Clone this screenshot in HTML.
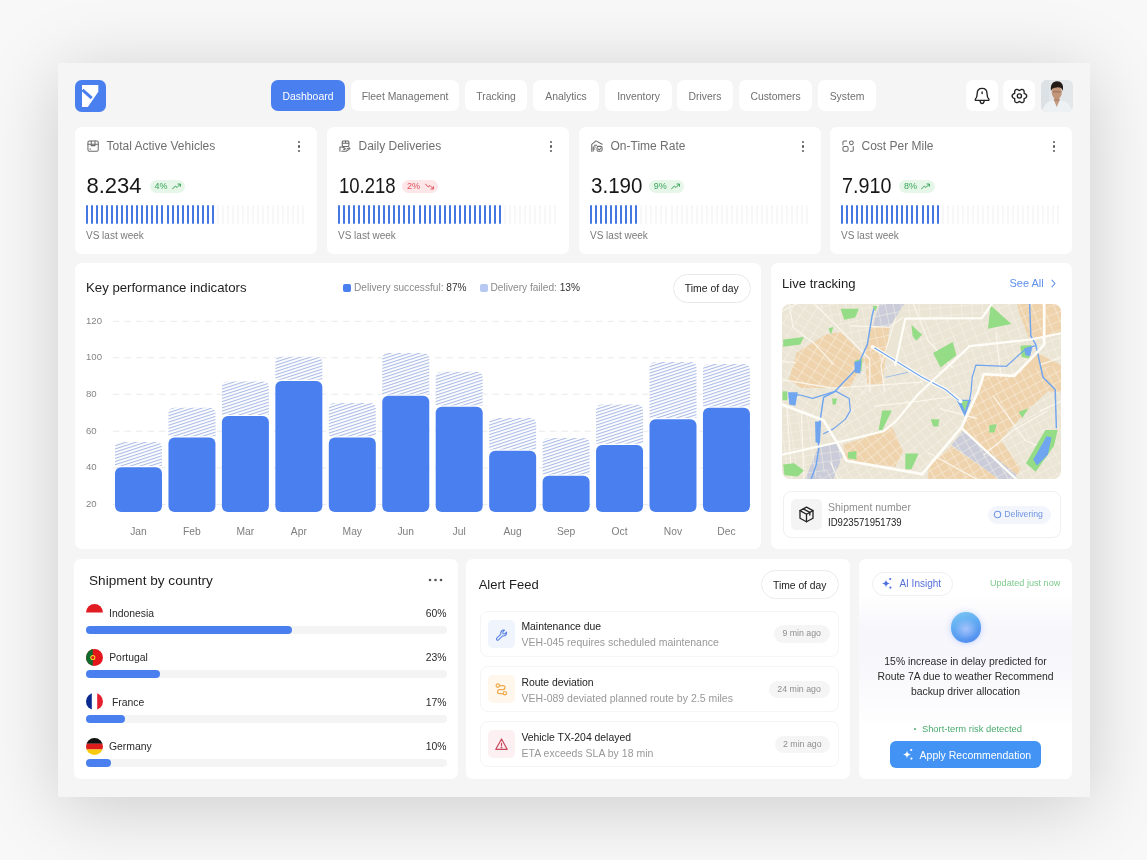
<!DOCTYPE html>
<html><head><meta charset="utf-8">
<style>

*{margin:0;padding:0;box-sizing:border-box}
html,body{width:1147px;height:860px;overflow:hidden}
body{background:#f8f8f8;font-family:"Liberation Sans",sans-serif;color:#1c1c1c;position:relative}
.a{position:absolute;white-space:nowrap}
#panel{position:absolute;left:58px;top:63px;width:1032px;height:734px;background:#f5f5f5;box-shadow:0 10px 70px rgba(0,0,0,0.18)}
.card{position:absolute;background:#fff;border-radius:6.5px}
.tab{position:absolute;top:80px;height:31px;padding-top:1px;border-radius:7px;background:#fff;color:#707070;font-size:10.4px;line-height:31px;text-align:center;white-space:nowrap}
.tab.on{background:#4a7ff0;color:#fff}
.ibtn{position:absolute;top:80px;width:32px;height:31px;border-radius:7px;background:#fff}
.kt{position:absolute;font-size:12px;line-height:14px;color:#6f6f6f;white-space:nowrap}
.kn{position:absolute;font-size:22px;line-height:24px;color:#161616;white-space:nowrap}
.badge{position:absolute;height:13px;border-radius:7px;font-size:9px;line-height:13px;white-space:nowrap;padding-left:5px}
.vs{position:absolute;font-size:10px;line-height:12px;color:#7a7a7a;white-space:nowrap}
.keb{position:absolute;width:3px;height:11px}
.keb i{display:block;width:2.2px;height:2.2px;border-radius:50%;background:#5a5a5a;margin-bottom:2.2px}
.ttl{position:absolute;font-size:13.2px;line-height:16px;color:#1e1e1e;white-space:nowrap}
.bars{position:absolute;height:19px;display:flex;justify-content:space-between;width:219px}
.bars b{display:block;width:2px;height:19px;border-radius:1px;background:#f7f7f7}
.bars b.on{background:#4577e2}
.yl{position:absolute;font-size:9.6px;line-height:12px;color:#858585;white-space:nowrap}
.ml{position:absolute;font-size:10.3px;line-height:12px;color:#7e7e7e;white-space:nowrap;text-align:center;width:47px}
.bar{position:absolute;width:47px;background:#4a7ff0;border-radius:6px}
.hat{position:absolute;width:47px;border-radius:6px 6px 0 0;background:repeating-linear-gradient(-20deg,#fff 0px,#fff 1.6px,#b9c9f0 1.6px,#b9c9f0 2.9px)}
.grid{position:absolute;left:113px;width:638px;height:0;border-top:1px dashed #e6e6e6}

</style></head>
<body>
<div id="wrap" style="position:absolute;left:0;top:0;width:1147px;height:860px;will-change:transform">
<div id="panel"></div>

<div class="a" style="left:75px;top:80px;width:31px;height:31.5px;border-radius:6.5px;background:#4a7ff0">
 <svg width="31" height="32" viewBox="0 0 31 32" style="position:absolute;left:0;top:0">
  <path d="M7 5 H23.3 V11.8 L12.8 27 H7 Z" fill="#fff"/>
  <path d="M8.6 10.9 L15.6 17.2" stroke="#4a7ff0" stroke-width="3" stroke-linecap="square"/>
 </svg>
</div>
<div class="tab on" style="left:271px;width:74px">Dashboard</div>
<div class="tab" style="left:351px;width:108px">Fleet Management</div>
<div class="tab" style="left:465px;width:62px">Tracking</div>
<div class="tab" style="left:533px;width:66px">Analytics</div>
<div class="tab" style="left:605px;width:67px">Inventory</div>
<div class="tab" style="left:677px;width:56px">Drivers</div>
<div class="tab" style="left:739px;width:73px">Customers</div>
<div class="tab" style="left:818px;width:58px">System</div>
<div class="ibtn" style="left:966px">
 <svg width="32" height="31" viewBox="0 0 32 31" style="position:absolute;left:0;top:0" fill="none" stroke="#222" stroke-width="1.35" stroke-linejoin="round" stroke-linecap="round">
  <path d="M16.1 8.3 C12.8 8.3 11.2 10.8 11.2 13.5 C11.2 16.5 10.8 17.8 9.3 19.3 C9 19.9 9.4 20.4 10 20.4 H22.2 C22.8 20.4 23.2 19.9 22.9 19.3 C21.4 17.8 21 16.5 21 13.5 C21 10.8 19.4 8.3 16.1 8.3 Z"/>
  <path d="M13.9 20.6 C14.3 22.6 15.1 23.6 16.1 23.6 C17.1 23.6 17.9 22.6 18.3 20.6"/>
  <path d="M16.1 11.9 V13.6"/>
 </svg>
</div>
<div class="ibtn" style="left:1003px">
 <svg width="32" height="31" viewBox="0 0 32 31" style="position:absolute;left:0;top:0" fill="none" stroke="#222" stroke-width="1.35" stroke-linejoin="round">
  <path d="M23.70 16.00 L23.67 16.32 L23.59 16.63 L23.45 16.93 L23.27 17.21 L23.04 17.47 L22.79 17.71 L22.50 17.92 L22.20 18.11 L21.89 18.28 L21.59 18.42 L21.31 18.56 L21.08 18.70 L21.07 18.97 L21.09 19.29 L21.12 19.62 L21.13 19.97 L21.12 20.32 L21.07 20.67 L21.00 21.02 L20.88 21.34 L20.73 21.64 L20.54 21.91 L20.31 22.14 L20.05 22.32 L19.76 22.46 L19.45 22.54 L19.12 22.57 L18.79 22.56 L18.45 22.49 L18.11 22.39 L17.78 22.25 L17.47 22.08 L17.18 21.89 L16.90 21.71 L16.64 21.53 L16.40 21.40 L16.16 21.53 L15.90 21.71 L15.62 21.89 L15.33 22.08 L15.02 22.25 L14.69 22.39 L14.35 22.49 L14.01 22.56 L13.68 22.57 L13.35 22.54 L13.04 22.46 L12.75 22.32 L12.49 22.14 L12.26 21.91 L12.07 21.64 L11.92 21.34 L11.80 21.02 L11.73 20.67 L11.68 20.32 L11.67 19.97 L11.68 19.62 L11.71 19.29 L11.73 18.97 L11.72 18.70 L11.49 18.56 L11.21 18.42 L10.91 18.28 L10.60 18.11 L10.30 17.92 L10.01 17.71 L9.76 17.47 L9.53 17.21 L9.35 16.93 L9.21 16.63 L9.13 16.32 L9.10 16.00 L9.13 15.68 L9.21 15.37 L9.35 15.07 L9.53 14.79 L9.76 14.53 L10.01 14.29 L10.30 14.08 L10.60 13.89 L10.91 13.72 L11.21 13.58 L11.49 13.44 L11.72 13.30 L11.73 13.03 L11.71 12.71 L11.68 12.38 L11.67 12.03 L11.68 11.68 L11.73 11.33 L11.80 10.98 L11.92 10.66 L12.07 10.36 L12.26 10.09 L12.49 9.86 L12.75 9.68 L13.04 9.54 L13.35 9.46 L13.68 9.43 L14.01 9.44 L14.35 9.51 L14.69 9.61 L15.02 9.75 L15.33 9.92 L15.62 10.11 L15.90 10.29 L16.16 10.47 L16.40 10.60 L16.64 10.47 L16.90 10.29 L17.18 10.11 L17.47 9.92 L17.78 9.75 L18.11 9.61 L18.45 9.51 L18.79 9.44 L19.12 9.43 L19.45 9.46 L19.76 9.54 L20.05 9.68 L20.31 9.86 L20.54 10.09 L20.73 10.36 L20.88 10.66 L21.00 10.98 L21.07 11.33 L21.12 11.68 L21.13 12.03 L21.12 12.38 L21.09 12.71 L21.07 13.03 L21.08 13.30 L21.31 13.44 L21.59 13.58 L21.89 13.72 L22.20 13.89 L22.50 14.08 L22.79 14.29 L23.04 14.53 L23.27 14.79 L23.45 15.07 L23.59 15.37 L23.67 15.68 Z"/>
  <circle cx="16.4" cy="16" r="2.1"/>
 </svg>
</div>
<div class="a" style="left:1041px;top:80px;width:32px;height:31.5px;border-radius:6px;overflow:hidden;background:#e6e9ec">
 <svg width="32" height="32" viewBox="0 0 32 32" style="position:absolute;left:0;top:0">
  <rect width="32" height="32" fill="#e3e7ea"/>
  <rect x="0" y="0" width="8" height="32" fill="#dce1e5"/>
  <path d="M1.5 32 C2.5 25 6 21.5 11 20.5 L20.5 20.5 C26 21.5 30 25 31 32 Z" fill="#eef1f4"/>
  <path d="M12.5 19.5 L15.8 27 L19 19.5 Z" fill="#c49a80"/>
  <rect x="13.3" y="16" width="5" height="5" fill="#b5876c"/>
  <ellipse cx="15.8" cy="12.3" rx="5" ry="6.6" fill="#c29478"/>
  <path d="M10 11 C9 4.5 12 1 16 1.2 C20.5 1.2 23 4.5 21.8 11 C21 8 19 7.2 16 7.4 C13 7.4 11 8.2 10 11 Z" fill="#241b17"/>
  <path d="M12 11.8 H19.6" stroke="#5a3e30" stroke-width="0.45"/>
 </svg>
</div>


<div class="card" style="left:75px;top:127px;width:242px;height:127px"></div>
<svg class="a" style="left:87.2px;top:140px" width="12.2" height="12.2" viewBox="0 0 13 13" fill="none" stroke="#6a6a6a" stroke-width="1.1" stroke-linecap="round" stroke-linejoin="round"><rect x="1" y="1" width="11" height="11" rx="1.5"/><path d="M1 4.5 H12 M4.5 1 V6 H8.5 V1 M3 9.5 H4"/></svg>
<div class="kt" style="left:106.5px;top:139px">Total Active Vehicles</div>
<div class="keb" style="left:298px;top:141px"><i></i><i></i><i></i></div>
<div class="kn" style="left:86.5px;top:174px;transform:scaleX(1.0);transform-origin:0 0">8.234</div>
<div class="badge" style="left:149.5px;top:179.5px;width:35px;background:#e6f6e9;color:#3aa55a">4%<svg width="9" height="7" viewBox="0 0 9 7" style="position:absolute;left:22px;top:3px" fill="none" stroke="#3aa55a" stroke-width="1" stroke-linecap="round" stroke-linejoin="round"><path d="M0.5 6 L3.3 3 L5 4.5 L8.3 1.2 M6 1 H8.4 V3.3"/></svg></div>
<div class="bars" style="left:86px;top:205px"><b class="on"></b><b class="on"></b><b class="on"></b><b class="on"></b><b class="on"></b><b class="on"></b><b class="on"></b><b class="on"></b><b class="on"></b><b class="on"></b><b class="on"></b><b class="on"></b><b class="on"></b><b class="on"></b><b class="on"></b><b class="on"></b><b class="on"></b><b class="on"></b><b class="on"></b><b class="on"></b><b class="on"></b><b class="on"></b><b class="on"></b><b class="on"></b><b class="on"></b><b class="on"></b><b></b><b></b><b></b><b></b><b></b><b></b><b></b><b></b><b></b><b></b><b></b><b></b><b></b><b></b><b></b><b></b><b></b><b></b></div>
<div class="vs" style="left:86px;top:230px">VS last week</div>

<div class="card" style="left:327px;top:127px;width:242px;height:127px"></div>
<svg class="a" style="left:339.2px;top:140px" width="12.2" height="12.2" viewBox="0 0 13 13" fill="none" stroke="#6a6a6a" stroke-width="1.1" stroke-linecap="round" stroke-linejoin="round"><rect x="3.5" y="1" width="7" height="6" rx="1"/><path d="M3.5 3.5 H10.5 M7 1 V3.5"/><path d="M1 12 V7.5 H3 L6 8.5 C7 8.8 7 10 6 10 H5 M3 12 L7.5 12 L11.5 9.5 C12 9 11.5 8 10.5 8.5 L8.5 9.5"/></svg>
<div class="kt" style="left:358.5px;top:139px">Daily Deliveries</div>
<div class="keb" style="left:550px;top:141px"><i></i><i></i><i></i></div>
<div class="kn" style="left:338.5px;top:174px;transform:scaleX(0.842);transform-origin:0 0">10.218</div>
<div class="badge" style="left:402px;top:179.5px;width:36px;background:#fde6e7;color:#e0505a">2%<svg width="9" height="7" viewBox="0 0 9 7" style="position:absolute;left:23px;top:3px" fill="none" stroke="#e0505a" stroke-width="1" stroke-linecap="round" stroke-linejoin="round"><path d="M0.5 1 L3.3 4 L5 2.5 L8.3 5.8 M6 6 H8.4 V3.7"/></svg></div>
<div class="bars" style="left:338px;top:205px"><b class="on"></b><b class="on"></b><b class="on"></b><b class="on"></b><b class="on"></b><b class="on"></b><b class="on"></b><b class="on"></b><b class="on"></b><b class="on"></b><b class="on"></b><b class="on"></b><b class="on"></b><b class="on"></b><b class="on"></b><b class="on"></b><b class="on"></b><b class="on"></b><b class="on"></b><b class="on"></b><b class="on"></b><b class="on"></b><b class="on"></b><b class="on"></b><b class="on"></b><b class="on"></b><b class="on"></b><b class="on"></b><b class="on"></b><b class="on"></b><b class="on"></b><b class="on"></b><b class="on"></b><b></b><b></b><b></b><b></b><b></b><b></b><b></b><b></b><b></b><b></b><b></b></div>
<div class="vs" style="left:338px;top:230px">VS last week</div>

<div class="card" style="left:579px;top:127px;width:242px;height:127px"></div>
<svg class="a" style="left:591.2px;top:140px" width="12.2" height="12.2" viewBox="0 0 13 13" fill="none" stroke="#6a6a6a" stroke-width="1.1" stroke-linecap="round" stroke-linejoin="round"><path d="M0.8 12 V4.6 L5.3 0.9 L11.9 4.6"/><path d="M3.6 5.6 H6.2"/><rect x="6.4" y="6.8" width="5.5" height="5.2" rx="1.6"/><path d="M7.8 9.6 L8.9 10.5 L10.6 8.6"/><path d="M2.3 12 V7.5 H4.6 M2.3 9.7 H4.2"/></svg>
<div class="kt" style="left:610.5px;top:139px">On-Time Rate</div>
<div class="keb" style="left:802px;top:141px"><i></i><i></i><i></i></div>
<div class="kn" style="left:590.5px;top:174px;transform:scaleX(0.935);transform-origin:0 0">3.190</div>
<div class="badge" style="left:648.7px;top:179.5px;width:35.5px;background:#e6f6e9;color:#3aa55a">9%<svg width="9" height="7" viewBox="0 0 9 7" style="position:absolute;left:22px;top:3px" fill="none" stroke="#3aa55a" stroke-width="1" stroke-linecap="round" stroke-linejoin="round"><path d="M0.5 6 L3.3 3 L5 4.5 L8.3 1.2 M6 1 H8.4 V3.3"/></svg></div>
<div class="bars" style="left:590px;top:205px"><b class="on"></b><b class="on"></b><b class="on"></b><b class="on"></b><b class="on"></b><b class="on"></b><b class="on"></b><b class="on"></b><b class="on"></b><b class="on"></b><b></b><b></b><b></b><b></b><b></b><b></b><b></b><b></b><b></b><b></b><b></b><b></b><b></b><b></b><b></b><b></b><b></b><b></b><b></b><b></b><b></b><b></b><b></b><b></b><b></b><b></b><b></b><b></b><b></b><b></b><b></b><b></b><b></b><b></b></div>
<div class="vs" style="left:590px;top:230px">VS last week</div>

<div class="card" style="left:830px;top:127px;width:242px;height:127px"></div>
<svg class="a" style="left:842.2px;top:140px" width="12.2" height="12.2" viewBox="0 0 13 13" fill="none" stroke="#6a6a6a" stroke-width="1.1" stroke-linecap="round" stroke-linejoin="round"><path d="M1 5 V2.5 C1 1.5 1.5 1 2.5 1 H5"/><rect x="1" y="7" width="5.5" height="5" rx="1.5"/><circle cx="10" cy="3" r="2"/><path d="M12 7 V11 C12 11.8 11.5 12 11 12 H9"/></svg>
<div class="kt" style="left:861.5px;top:139px">Cost Per Mile</div>
<div class="keb" style="left:1053px;top:141px"><i></i><i></i><i></i></div>
<div class="kn" style="left:841.5px;top:174px;transform:scaleX(0.897);transform-origin:0 0">7.910</div>
<div class="badge" style="left:899px;top:179.5px;width:35.5px;background:#e6f6e9;color:#3aa55a">8%<svg width="9" height="7" viewBox="0 0 9 7" style="position:absolute;left:22px;top:3px" fill="none" stroke="#3aa55a" stroke-width="1" stroke-linecap="round" stroke-linejoin="round"><path d="M0.5 6 L3.3 3 L5 4.5 L8.3 1.2 M6 1 H8.4 V3.3"/></svg></div>
<div class="bars" style="left:841px;top:205px"><b class="on"></b><b class="on"></b><b class="on"></b><b class="on"></b><b class="on"></b><b class="on"></b><b class="on"></b><b class="on"></b><b class="on"></b><b class="on"></b><b class="on"></b><b class="on"></b><b class="on"></b><b class="on"></b><b class="on"></b><b class="on"></b><b class="on"></b><b class="on"></b><b class="on"></b><b class="on"></b><b></b><b></b><b></b><b></b><b></b><b></b><b></b><b></b><b></b><b></b><b></b><b></b><b></b><b></b><b></b><b></b><b></b><b></b><b></b><b></b><b></b><b></b><b></b><b></b></div>
<div class="vs" style="left:841px;top:230px">VS last week</div>

<div class="card" style="left:75px;top:263px;width:686px;height:286px"></div>
<svg class="a" style="left:0;top:0" width="1147" height="860" viewBox="0 0 1147 860"><defs><pattern id="hp" width="6" height="3" patternUnits="userSpaceOnUse" patternTransform="rotate(-18)"><rect x="0" y="0" width="6" height="3" fill="#fff"/><rect x="0" y="0" width="6" height="1.1" fill="#acbbe6"/></pattern></defs><line x1="113" y1="321.3" x2="751" y2="321.3" stroke="#eaeaea" stroke-width="1" stroke-dasharray="6.5 5"/><line x1="113" y1="357.8" x2="751" y2="357.8" stroke="#eaeaea" stroke-width="1" stroke-dasharray="6.5 5"/><line x1="113" y1="394.2" x2="751" y2="394.2" stroke="#eaeaea" stroke-width="1" stroke-dasharray="6.5 5"/><line x1="113" y1="431.2" x2="751" y2="431.2" stroke="#eaeaea" stroke-width="1" stroke-dasharray="6.5 5"/><line x1="113" y1="467.9" x2="751" y2="467.9" stroke="#eaeaea" stroke-width="1" stroke-dasharray="6.5 5"/><line x1="113" y1="504.6" x2="751" y2="504.6" stroke="#eaeaea" stroke-width="1" stroke-dasharray="6.5 5"/><path d="M115.00 466.10 V447.90 Q115.00 441.90 121.00 441.90 H156.00 Q162.00 441.90 162.00 447.90 V466.10 Z" fill="url(#hp)"/><rect x="115.00" y="467.3" width="47" height="44.70" rx="6" fill="#4a7ff0"/><path d="M168.45 436.30 V413.70 Q168.45 407.70 174.45 407.70 H209.45 Q215.45 407.70 215.45 413.70 V436.30 Z" fill="url(#hp)"/><rect x="168.45" y="437.5" width="47" height="74.50" rx="6" fill="#4a7ff0"/><path d="M221.90 414.90 V387.60 Q221.90 381.60 227.90 381.60 H262.90 Q268.90 381.60 268.90 387.60 V414.90 Z" fill="url(#hp)"/><rect x="221.90" y="416.1" width="47" height="95.90" rx="6" fill="#4a7ff0"/><path d="M275.35 379.80 V362.80 Q275.35 356.80 281.35 356.80 H316.35 Q322.35 356.80 322.35 362.80 V379.80 Z" fill="url(#hp)"/><rect x="275.35" y="381" width="47" height="131.00" rx="6" fill="#4a7ff0"/><path d="M328.80 436.30 V409.00 Q328.80 403.00 334.80 403.00 H369.80 Q375.80 403.00 375.80 409.00 V436.30 Z" fill="url(#hp)"/><rect x="328.80" y="437.5" width="47" height="74.50" rx="6" fill="#4a7ff0"/><path d="M382.25 394.50 V359.00 Q382.25 353.00 388.25 353.00 H423.25 Q429.25 353.00 429.25 359.00 V394.50 Z" fill="url(#hp)"/><rect x="382.25" y="395.7" width="47" height="116.30" rx="6" fill="#4a7ff0"/><path d="M435.70 405.60 V377.70 Q435.70 371.70 441.70 371.70 H476.70 Q482.70 371.70 482.70 377.70 V405.60 Z" fill="url(#hp)"/><rect x="435.70" y="406.8" width="47" height="105.20" rx="6" fill="#4a7ff0"/><path d="M489.15 449.50 V424.00 Q489.15 418.00 495.15 418.00 H530.15 Q536.15 418.00 536.15 424.00 V449.50 Z" fill="url(#hp)"/><rect x="489.15" y="450.7" width="47" height="61.30" rx="6" fill="#4a7ff0"/><path d="M542.60 474.60 V443.90 Q542.60 437.90 548.60 437.90 H583.60 Q589.60 437.90 589.60 443.90 V474.60 Z" fill="url(#hp)"/><rect x="542.60" y="475.8" width="47" height="36.20" rx="6" fill="#4a7ff0"/><path d="M596.05 443.80 V410.40 Q596.05 404.40 602.05 404.40 H637.05 Q643.05 404.40 643.05 410.40 V443.80 Z" fill="url(#hp)"/><rect x="596.05" y="445" width="47" height="67.00" rx="6" fill="#4a7ff0"/><path d="M649.50 418.10 V368.00 Q649.50 362.00 655.50 362.00 H690.50 Q696.50 362.00 696.50 368.00 V418.10 Z" fill="url(#hp)"/><rect x="649.50" y="419.3" width="47" height="92.70" rx="6" fill="#4a7ff0"/><path d="M702.95 406.50 V370.00 Q702.95 364.00 708.95 364.00 H743.95 Q749.95 364.00 749.95 370.00 V406.50 Z" fill="url(#hp)"/><rect x="702.95" y="407.7" width="47" height="104.30" rx="6" fill="#4a7ff0"/></svg>
<div class="ttl" style="left:86px;top:280px">Key performance indicators</div>
<div class="a" style="left:343px;top:284px;width:8px;height:8px;border-radius:2px;background:#4a7ff0"></div>
<div class="a" style="left:354px;top:282px;font-size:10.15px;line-height:12px;color:#8a8a8a">Delivery successful: <span style="color:#333">87%</span></div>
<div class="a" style="left:479.5px;top:284px;width:8px;height:8px;border-radius:2px;background:#b7c8f3"></div>
<div class="a" style="left:490.5px;top:282px;font-size:10.15px;line-height:12px;color:#8a8a8a">Delivery failed: <span style="color:#333">13%</span></div>
<div class="a" style="left:672.5px;top:273.5px;width:78.5px;height:29px;border:1px solid #e8e8e8;border-radius:15px;font-size:10.4px;line-height:27px;text-align:center;color:#222">Time of day</div>
<div class="yl" style="left:86px;top:314.8px">120</div>
<div class="yl" style="left:86px;top:351.3px">100</div>
<div class="yl" style="left:86px;top:387.7px">80</div>
<div class="yl" style="left:86px;top:424.7px">60</div>
<div class="yl" style="left:86px;top:461.4px">40</div>
<div class="yl" style="left:86px;top:498.1px">20</div>
<div class="ml" style="left:115.00px;top:525.5px">Jan</div>
<div class="ml" style="left:168.45px;top:525.5px">Feb</div>
<div class="ml" style="left:221.90px;top:525.5px">Mar</div>
<div class="ml" style="left:275.35px;top:525.5px">Apr</div>
<div class="ml" style="left:328.80px;top:525.5px">May</div>
<div class="ml" style="left:382.25px;top:525.5px">Jun</div>
<div class="ml" style="left:435.70px;top:525.5px">Jul</div>
<div class="ml" style="left:489.15px;top:525.5px">Aug</div>
<div class="ml" style="left:542.60px;top:525.5px">Sep</div>
<div class="ml" style="left:596.05px;top:525.5px">Oct</div>
<div class="ml" style="left:649.50px;top:525.5px">Nov</div>
<div class="ml" style="left:702.95px;top:525.5px">Dec</div>

<div class="card" style="left:771px;top:263px;width:301px;height:286px"></div>
<div class="ttl" style="left:782px;top:276px;font-size:13.1px">Live tracking</div>
<div class="a" style="left:1009.5px;top:277px;font-size:11px;line-height:13px;color:#5e8fe8">See All</div>
<svg class="a" style="left:1050px;top:279px" width="7" height="9" viewBox="0 0 7 9" fill="none" stroke="#5e8fe8" stroke-width="1.1" stroke-linecap="round" stroke-linejoin="round"><path d="M2 1.2 L5 4.5 L2 7.8"/></svg>
<div class="a" style="left:782px;top:304px;width:279px;height:175px;border-radius:8px;overflow:hidden">
<svg width="279" height="175" viewBox="0 0 1147 719" preserveAspectRatio="none" style="display:block"><rect width="1147" height="719" fill="#ebe5d6"/><defs><pattern id="mp0" width="43" height="32" patternUnits="userSpaceOnUse" patternTransform="rotate(32)"><path d="M0 0 H43 M0 0 V32" stroke="#faf6ec" stroke-width="4.5" fill="none"/></pattern><clipPath id="mc0"><polygon points="0,0 135,0 361,226 361,361 226,569 171,478 0,413"/></clipPath><pattern id="mp1" width="37" height="35" patternUnits="userSpaceOnUse" patternTransform="rotate(-8)"><path d="M0 0 H37 M0 0 V35" stroke="#faf6ec" stroke-width="4.5" fill="none"/></pattern><clipPath id="mc1"><polygon points="0,413 171,478 226,569 266,644 120,720 0,720"/></clipPath><pattern id="mp2" width="43" height="32" patternUnits="userSpaceOnUse" patternTransform="rotate(78)"><path d="M0 0 H43 M0 0 V32" stroke="#faf6ec" stroke-width="4.5" fill="none"/></pattern><clipPath id="mc2"><polygon points="135,0 505,0 467,60 407,251 372,176 361,226"/></clipPath><pattern id="mp3" width="40" height="35" patternUnits="userSpaceOnUse" patternTransform="rotate(60)"><path d="M0 0 H40 M0 0 V35" stroke="#faf6ec" stroke-width="4.5" fill="none"/></pattern><clipPath id="mc3"><polygon points="361,226 372,176 576,301 470,480 226,569"/></clipPath><pattern id="mp4" width="43" height="35" patternUnits="userSpaceOnUse" patternTransform="rotate(-22)"><path d="M0 0 H43 M0 0 V35" stroke="#faf6ec" stroke-width="4.5" fill="none"/></pattern><clipPath id="mc4"><polygon points="505,0 862,0 822,58 505,60 470,232 576,301 772,173 1023,146 1147,120 1147,0"/></clipPath><pattern id="mp5" width="37" height="32" patternUnits="userSpaceOnUse" patternTransform="rotate(70)"><path d="M0 0 H37 M0 0 V32" stroke="#faf6ec" stroke-width="4.5" fill="none"/></pattern><clipPath id="mc5"><polygon points="576,301 772,173 1023,146 1147,120 1147,251 1048,200 955,295 830,288 807,358 737,508 672,351"/></clipPath><pattern id="mp6" width="40" height="32" patternUnits="userSpaceOnUse" patternTransform="rotate(52)"><path d="M0 0 H40 M0 0 V32" stroke="#faf6ec" stroke-width="4.5" fill="none"/></pattern><clipPath id="mc6"><polygon points="226,569 470,480 576,301 672,351 737,508 576,699 266,644"/></clipPath><pattern id="mp7" width="43" height="35" patternUnits="userSpaceOnUse" patternTransform="rotate(-5)"><path d="M0 0 H43 M0 0 V35" stroke="#faf6ec" stroke-width="4.5" fill="none"/></pattern><clipPath id="mc7"><polygon points="490,0 870,0 822,60 500,62"/></clipPath><pattern id="mp8" width="37" height="32" patternUnits="userSpaceOnUse" patternTransform="rotate(62)"><path d="M0 0 H37 M0 0 V32" stroke="#faf6ec" stroke-width="4.5" fill="none"/></pattern><clipPath id="mc8"><polygon points="737,508 807,358 830,288 1147,251 1147,720 963,720"/></clipPath><pattern id="mp9" width="37" height="32" patternUnits="userSpaceOnUse" patternTransform="rotate(-30)"><path d="M0 0 H37 M0 0 V32" stroke="#faf6ec" stroke-width="4.5" fill="none"/></pattern><clipPath id="mc9"><polygon points="266,644 576,699 737,508 963,720 120,720"/></clipPath></defs><polygon points="28,311 60,200 180,125 240,115 320,195 340,230 300,300 280,345 80,345" fill="#efd3ad" /><polygon points="361,95 442,95 412,331 351,331 340,225" fill="#efd3ad" /><polygon points="968,0 1147,0 1147,116 1078,136 1013,136 973,30" fill="#efd3ad" /><polygon points="830,288 955,295 1048,200 1147,251 1147,362 1093,358 1013,433 898,558 983,679 963,704 742,518" fill="#efd3ad" /><polygon points="251,579 417,523 452,503 497,604 467,669 266,644" fill="#efd3ad" /><polygon points="697,584 893,720 601,720 601,669" fill="#efd3ad" /><polygon points="371,95 402,0 502,0 442,95" fill="#cacdd9" /><polygon points="742,523 697,579 893,720 963,720 963,699" fill="#cacdd9" /><polygon points="151,584 226,574 251,619 211,720 95,720" fill="#cacdd9" /><rect x="-50" y="-50" width="1250" height="820" fill="url(#mp0)" clip-path="url(#mc0)" opacity="0.85"/><rect x="-50" y="-50" width="1250" height="820" fill="url(#mp1)" clip-path="url(#mc1)" opacity="0.85"/><rect x="-50" y="-50" width="1250" height="820" fill="url(#mp2)" clip-path="url(#mc2)" opacity="0.85"/><rect x="-50" y="-50" width="1250" height="820" fill="url(#mp3)" clip-path="url(#mc3)" opacity="0.85"/><rect x="-50" y="-50" width="1250" height="820" fill="url(#mp4)" clip-path="url(#mc4)" opacity="0.85"/><rect x="-50" y="-50" width="1250" height="820" fill="url(#mp5)" clip-path="url(#mc5)" opacity="0.85"/><rect x="-50" y="-50" width="1250" height="820" fill="url(#mp6)" clip-path="url(#mc6)" opacity="0.85"/><rect x="-50" y="-50" width="1250" height="820" fill="url(#mp7)" clip-path="url(#mc7)" opacity="0.85"/><rect x="-50" y="-50" width="1250" height="820" fill="url(#mp8)" clip-path="url(#mc8)" opacity="0.85"/><rect x="-50" y="-50" width="1250" height="820" fill="url(#mp9)" clip-path="url(#mc9)" opacity="0.85"/><polyline points="135,0 361,226 361,361" fill="none" stroke="#faf6ec" stroke-width="5" stroke-linejoin="round" stroke-linecap="round" /><polyline points="30,0 45,95 130,160 211,246" fill="none" stroke="#faf6ec" stroke-width="5" stroke-linejoin="round" stroke-linecap="round" /><polyline points="281,90 442,95 497,55" fill="none" stroke="#faf6ec" stroke-width="5" stroke-linejoin="round" stroke-linecap="round" /><polyline points="467,60 407,251 422,361" fill="none" stroke="#faf6ec" stroke-width="5" stroke-linejoin="round" stroke-linecap="round" /><polyline points="0,311 210,346 576,321" fill="none" stroke="#faf6ec" stroke-width="5" stroke-linejoin="round" stroke-linecap="round" /><polyline points="0,236 55,241" fill="none" stroke="#faf6ec" stroke-width="5" stroke-linejoin="round" stroke-linecap="round" /><polyline points="0,30 60,0" fill="none" stroke="#faf6ec" stroke-width="5" stroke-linejoin="round" stroke-linecap="round" /><polyline points="540,0 600,150 700,260" fill="none" stroke="#faf6ec" stroke-width="5" stroke-linejoin="round" stroke-linecap="round" /><polyline points="880,120 900,300" fill="none" stroke="#faf6ec" stroke-width="5" stroke-linejoin="round" stroke-linecap="round" /><polyline points="870,380 1000,560 1090,600" fill="none" stroke="#faf6ec" stroke-width="5" stroke-linejoin="round" stroke-linecap="round" /><polyline points="1090,440 950,520 830,620" fill="none" stroke="#faf6ec" stroke-width="5" stroke-linejoin="round" stroke-linecap="round" /><polyline points="650,430 800,470" fill="none" stroke="#faf6ec" stroke-width="5" stroke-linejoin="round" stroke-linecap="round" /><polyline points="380,420 560,400 700,380" fill="none" stroke="#faf6ec" stroke-width="5" stroke-linejoin="round" stroke-linecap="round" /><polyline points="1147,400 1060,440" fill="none" stroke="#faf6ec" stroke-width="5" stroke-linejoin="round" stroke-linecap="round" /><polyline points="1147,220 1060,250" fill="none" stroke="#faf6ec" stroke-width="5" stroke-linejoin="round" stroke-linecap="round" /><polyline points="600,610 800,719" fill="none" stroke="#faf6ec" stroke-width="5" stroke-linejoin="round" stroke-linecap="round" /><polyline points="200,650 230,719" fill="none" stroke="#faf6ec" stroke-width="5" stroke-linejoin="round" stroke-linecap="round" /><polyline points="20,430 40,719" fill="none" stroke="#faf6ec" stroke-width="5" stroke-linejoin="round" stroke-linecap="round" /><polyline points="80,450 90,719" fill="none" stroke="#faf6ec" stroke-width="5" stroke-linejoin="round" stroke-linecap="round" /><polygon points="241,20 316,20 301,55 256,65" fill="#95dc86" /><polygon points="5,146 90,136 75,166 5,176" fill="#95dc86" /><polygon points="532,85 576,126 552,151 537,131" fill="#95dc86" /><polygon points="301,231 331,226 326,276 301,271" fill="#95dc86" /><polygon points="191,100 211,95 201,125" fill="#95dc86" /><polygon points="857,5 943,82 847,102" fill="#95dc86" /><polygon points="621,201 702,156 717,211 652,261" fill="#95dc86" /><polygon points="412,438 452,438 412,518 397,518" fill="#95dc86" /><polygon points="271,609 306,604 306,639 271,634" fill="#95dc86" /><polygon points="5,659 50,654 90,684 65,709 10,704" fill="#95dc86" /><polygon points="507,614 562,614 532,679 507,679" fill="#95dc86" /><polygon points="206,388 226,388 221,413 208,413" fill="#95dc86" /><polygon points="1003,654 1083,518 1133,518 1118,583 1043,689" fill="#95dc86" /><polygon points="611,473 647,473 642,503 622,503" fill="#95dc86" /><polygon points="852,498 883,493 873,528 852,528" fill="#95dc86" /><polygon points="973,443 1013,428 988,468" fill="#95dc86" /><polygon points="980,172 1026,168 1016,224 985,218" fill="#95dc86" /><polygon points="2,360 22,358 22,395 2,395" fill="#95dc86" /><polygon points="25,363 65,363 55,418 30,413" fill="#70a5ef" /><polygon points="717,393 777,393 752,463" fill="#70a5ef" /><polygon points="1033,639 1088,543 1108,548 1093,619 1048,664" fill="#70a5ef" /><polygon points="136,483 161,483 156,573 138,568" fill="#70a5ef" /><polygon points="996,182 1030,176 1020,215 1000,210" fill="#70a5ef" /><polygon points="297,238 326,232 322,286 300,282" fill="#70a5ef" /><polygon points="735,400 765,398 752,440" fill="#95dc86" /><polyline points="372,176 576,301 672,351 735,400" fill="none" stroke="#fffdf8" stroke-width="15" stroke-linejoin="round" stroke-linecap="round" /><polyline points="381,10 371,45 351,166 326,221 301,271 216,361 171,383 156,483 146,523 151,594 141,659 120,720" fill="none" stroke="#70a5ef" stroke-width="6" stroke-linejoin="round" stroke-linecap="round" /><polyline points="381,181 576,301 672,351 725,395" fill="none" stroke="#70a5ef" stroke-width="5" stroke-linejoin="round" stroke-linecap="round" /><polyline points="1018,0 1023,131 1043,166 1053,211 1073,301 1123,351 1128,508" fill="none" stroke="#70a5ef" stroke-width="6" stroke-linejoin="round" stroke-linecap="round" /><polyline points="1043,171 1008,181 983,201 923,256 797,251 782,301 777,362 770,400" fill="none" stroke="#70a5ef" stroke-width="5" stroke-linejoin="round" stroke-linecap="round" /><polyline points="30,383 70,373 126,388 221,358 276,388 281,438 261,473 211,513 171,533" fill="none" stroke="#70a5ef" stroke-width="5" stroke-linejoin="round" stroke-linecap="round" /><polyline points="427,301 517,281" fill="none" stroke="#70a5ef" stroke-width="2.5" stroke-linejoin="round" stroke-linecap="round" /><polygon points="372,8 392,8 384,30" fill="#95dc86" /><polyline points="0,413 171,478 226,569 266,644 576,699 737,508 807,358 830,288 955,295 1048,200 1078,166 1078,0" fill="none" stroke="#fffdf8" stroke-width="11" stroke-linejoin="round" stroke-linecap="round" /><polyline points="466,250 507,60 822,58 862,0" fill="none" stroke="#fffdf8" stroke-width="9" stroke-linejoin="round" stroke-linecap="round" /><polyline points="0,619 226,569 417,523 470,480 560,370 772,173 1023,146 1147,120" fill="none" stroke="#fffdf8" stroke-width="9" stroke-linejoin="round" stroke-linecap="round" /><polyline points="737,508 963,720" fill="none" stroke="#fffdf8" stroke-width="9" stroke-linejoin="round" stroke-linecap="round" /></svg>
</div>
<div class="a" style="left:783px;top:491px;width:278px;height:47px;border:1px solid #f0f0f0;border-radius:8px"></div>
<div class="a" style="left:791px;top:499px;width:31px;height:31px;border-radius:5px;background:#f4f4f4"></div>
<svg class="a" style="left:797px;top:505px" width="19" height="19" viewBox="0 0 19 19" fill="none" stroke="#222" stroke-width="1.3" stroke-linejoin="round" stroke-linecap="round">
 <path d="M9.5 2.2 L16 5.6 V13.2 L9.5 16.8 L3 13.2 V5.6 Z"/><path d="M3 5.6 L9.5 9.2 L16 5.6 M9.5 9.2 V16.8"/><path d="M6.2 3.9 L12.8 7.4 V10"/>
</svg>
<div class="a" style="left:828px;top:501px;font-size:10.5px;line-height:12px;color:#8e8e8e">Shipment number</div>
<div class="a" style="left:828px;top:515.5px;font-size:11px;line-height:12px;color:#222;transform:scaleX(0.873);transform-origin:0 0">ID923571951739</div>
<div class="a" style="left:988px;top:505.5px;width:63px;height:18px;border-radius:9px;background:#f2f5fc"></div>
<svg class="a" style="left:993px;top:510px" width="9" height="9" viewBox="0 0 9 9" fill="none" stroke="#7096e0" stroke-width="1.1"><circle cx="4.5" cy="4.5" r="3.2"/></svg>
<div class="a" style="left:1004.3px;top:509px;font-size:8.7px;line-height:11px;color:#6f95e0">Delivering</div>

<div class="card" style="left:74px;top:559px;width:384px;height:220px"></div>
<div class="ttl" style="left:89px;top:572.5px;font-size:13.6px">Shipment by country</div>
<svg class="a" style="left:428px;top:578px" width="15" height="4" viewBox="0 0 15 4"><circle cx="2" cy="2" r="1.3" fill="#555"/><circle cx="7.5" cy="2" r="1.3" fill="#555"/><circle cx="13" cy="2" r="1.3" fill="#555"/></svg>
<svg class="a" style="left:86px;top:604.0px" width="17" height="17" viewBox="0 0 17 17"><path d="M0 8.5 A8.5 8.5 0 0 1 17 8.5 Z" fill="#e11b22"/></svg>
<div class="a" style="left:109px;top:607.5px;font-size:10.4px;line-height:12px;color:#2a2a2a">Indonesia</div>
<div class="a" style="left:424px;top:607.5px;width:22.5px;text-align:right;font-size:10.4px;line-height:12px;color:#2a2a2a">60%</div>
<div class="a" style="left:86px;top:625.7px;width:360.5px;height:8.3px;border-radius:4.2px;background:#f4f4f4"></div>
<div class="a" style="left:86px;top:625.7px;width:205.9px;height:8.3px;border-radius:4.2px;background:#4a7ff0"></div>
<svg class="a" style="left:86px;top:648.5px" width="17" height="17" viewBox="0 0 17 17"><defs><clipPath id="cpt"><circle cx="8.5" cy="8.5" r="8.5"/></clipPath></defs><g clip-path="url(#cpt)"><rect width="17" height="17" fill="#e3161c"/><rect width="6.8" height="17" fill="#0f6a2e"/><circle cx="6.8" cy="8.5" r="2.6" fill="#f5d027"/><circle cx="6.8" cy="8.5" r="1.5" fill="#e3161c"/></g></svg>
<div class="a" style="left:109.2px;top:652px;font-size:10.4px;line-height:12px;color:#2a2a2a">Portugal</div>
<div class="a" style="left:424px;top:652px;width:22.5px;text-align:right;font-size:10.4px;line-height:12px;color:#2a2a2a">23%</div>
<div class="a" style="left:86px;top:670.2px;width:360.5px;height:8.3px;border-radius:4.2px;background:#f4f4f4"></div>
<div class="a" style="left:86px;top:670.2px;width:73.9px;height:8.3px;border-radius:4.2px;background:#4a7ff0"></div>
<svg class="a" style="left:86px;top:693.0px" width="17" height="17" viewBox="0 0 17 17"><defs><clipPath id="cfr"><circle cx="8.5" cy="8.5" r="8.5"/></clipPath></defs><g clip-path="url(#cfr)"><rect width="17" height="17" fill="#fff"/><rect width="5.8" height="17" fill="#0a2a8f"/><rect x="11.2" width="5.8" height="17" fill="#e5202e"/></g></svg>
<div class="a" style="left:111.9px;top:696.5px;font-size:10.4px;line-height:12px;color:#2a2a2a">France</div>
<div class="a" style="left:424px;top:696.5px;width:22.5px;text-align:right;font-size:10.4px;line-height:12px;color:#2a2a2a">17%</div>
<div class="a" style="left:86px;top:714.7px;width:360.5px;height:8.3px;border-radius:4.2px;background:#f4f4f4"></div>
<div class="a" style="left:86px;top:714.7px;width:39.3px;height:8.3px;border-radius:4.2px;background:#4a7ff0"></div>
<svg class="a" style="left:86px;top:737.5px" width="17" height="17" viewBox="0 0 17 17"><defs><clipPath id="cde"><circle cx="8.5" cy="8.5" r="8.5"/></clipPath></defs><g clip-path="url(#cde)"><rect width="17" height="5.8" fill="#111"/><rect y="5.7" width="17" height="5.8" fill="#dd1d1d"/><rect y="11.4" width="17" height="5.8" fill="#f8c90f"/></g></svg>
<div class="a" style="left:109px;top:741px;font-size:10.4px;line-height:12px;color:#2a2a2a">Germany</div>
<div class="a" style="left:424px;top:741px;width:22.5px;text-align:right;font-size:10.4px;line-height:12px;color:#2a2a2a">10%</div>
<div class="a" style="left:86px;top:759.2px;width:360.5px;height:8.3px;border-radius:4.2px;background:#f4f4f4"></div>
<div class="a" style="left:86px;top:759.2px;width:24.7px;height:8.3px;border-radius:4.2px;background:#4a7ff0"></div>
<div class="card" style="left:466px;top:559px;width:384px;height:220px"></div>
<div class="ttl" style="left:478.7px;top:577px;font-size:13px">Alert Feed</div>
<div class="a" style="left:760.5px;top:570.2px;width:78.5px;height:28.5px;border:1px solid #ebebeb;border-radius:15px;font-size:10.3px;line-height:26.5px;padding-top:1.5px;text-align:center;color:#222">Time of day</div>
<div class="a" style="left:479.5px;top:611px;width:359px;height:46px;border:1px solid #f5f5f5;border-radius:8px"></div>
<div class="a" style="left:487.5px;top:620px;width:27px;height:28px;border-radius:5px;background:#f0f4fd"></div>
<svg class="a" style="left:493.5px;top:626.5px" width="15" height="15" viewBox="0 0 15 15"><path d="M10.6 3.2 a3 3 0 0 0 -3.7 3.9 L2.8 11.2 a1.2 1.2 0 0 0 1.7 1.7 L8.6 8.8 a3 3 0 0 0 3.9 -3.7 L10.6 7 L9 6.7 L8.7 5.1 Z" fill="none" stroke="#5b82e0" stroke-width="1.1" stroke-linejoin="round"/></svg>
<div class="a" style="left:521.4px;top:621.2px;font-size:10.4px;line-height:12px;color:#222">Maintenance due</div>
<div class="a" style="left:521.6px;top:636.3px;font-size:10.5px;line-height:12px;color:#989898">VEH-045 requires scheduled maintenance</div>
<div class="a" style="left:773.8px;top:625.2px;width:55.8px;height:17.4px;border-radius:9px;background:#f5f5f5;font-size:8.8px;line-height:17.4px;text-align:center;color:#8f8f8f">9 min ago</div>
<div class="a" style="left:479.5px;top:666.3px;width:359px;height:46px;border:1px solid #f5f5f5;border-radius:8px"></div>
<div class="a" style="left:487.5px;top:675.3px;width:27px;height:28px;border-radius:5px;background:#fff7ec"></div>
<svg class="a" style="left:493.5px;top:681.8px" width="15" height="15" viewBox="0 0 15 15"><g fill="none" stroke="#f0a94a" stroke-width="1.2"><circle cx="3.8" cy="3.6" r="1.7"/><circle cx="10.8" cy="11.2" r="1.7"/><path d="M5.5 3.6 H9 a2 2 0 0 1 0 4 H5.5 a2 2 0 0 0 0 4 H9"/></g></svg>
<div class="a" style="left:521.4px;top:676.5px;font-size:10.4px;line-height:12px;color:#222">Route deviation</div>
<div class="a" style="left:521.6px;top:691.5999999999999px;font-size:10.5px;line-height:12px;color:#989898">VEH-089 deviated planned route by 2.5 miles</div>
<div class="a" style="left:768.7px;top:680.5px;width:60.9px;height:17.4px;border-radius:9px;background:#f5f5f5;font-size:8.8px;line-height:17.4px;text-align:center;color:#8f8f8f">24 min ago</div>
<div class="a" style="left:479.5px;top:721.4px;width:359px;height:46px;border:1px solid #f5f5f5;border-radius:8px"></div>
<div class="a" style="left:487.5px;top:730.4px;width:27px;height:28px;border-radius:5px;background:#fdf0f3"></div>
<svg class="a" style="left:493.5px;top:736.9px" width="15" height="15" viewBox="0 0 15 15"><g fill="none" stroke="#c8475a" stroke-width="1.2" stroke-linejoin="round"><path d="M7.5 2 L13.2 12.3 H1.8 Z"/><path d="M7.5 6 V8.6" stroke-linecap="round"/><circle cx="7.5" cy="10.5" r="0.35" fill="#c8475a"/></g></svg>
<div class="a" style="left:521.4px;top:731.6px;font-size:10.4px;line-height:12px;color:#222">Vehicle TX-204 delayed</div>
<div class="a" style="left:521.6px;top:746.6999999999999px;font-size:10.5px;line-height:12px;color:#989898">ETA exceeds SLA by 18 min</div>
<div class="a" style="left:775px;top:735.6px;width:54.6px;height:17.4px;border-radius:9px;background:#f5f5f5;font-size:8.8px;line-height:17.4px;text-align:center;color:#8f8f8f">2 min ago</div>
<div class="card" style="left:859px;top:559px;width:213px;height:220px;background:linear-gradient(#fff 0px,#fff 35px,#f6f6fb 75px,#f8f8fc 110px,#fff 170px)"></div>
<div class="a" style="left:871.5px;top:571.5px;width:81px;height:24.5px;border:1px solid #f0f0f0;border-radius:12.5px;background:#fff"></div>
<svg class="a" style="left:880.5px;top:577px" width="12" height="13" viewBox="0 0 12 13"><g fill="#4d6fe0"><path d="M5 2.5 C5.4 5.2 6.3 6.1 9 6.5 C6.3 6.9 5.4 7.8 5 10.5 C4.6 7.8 3.7 6.9 1 6.5 C3.7 6.1 4.6 5.2 5 2.5 Z"/><circle cx="9.2" cy="2" r="1.1"/><circle cx="9.4" cy="10.6" r="1.1"/></g></svg>
<div class="a" style="left:899.4px;top:577.5px;font-size:10px;line-height:12px;color:#5670d8">AI Insight</div>
<div class="a" style="left:990px;top:578px;font-size:9.1px;line-height:11px;color:#7ccb8c">Updated just now</div>
<div class="a" style="left:944px;top:606px;width:44px;height:44px;border-radius:50%;background:radial-gradient(circle,rgba(190,205,250,0.55) 45%,rgba(225,232,255,0.25) 60%,rgba(240,244,255,0) 72%)"></div>
<div class="a" style="left:950.5px;top:612.4px;width:30.8px;height:30.8px;border-radius:50%;background:linear-gradient(160deg,#7ccaf3 0%,#5fa8f2 45%,#4f88ef 100%)"></div>
<div class="a" style="left:950.5px;top:612.4px;width:30.8px;height:30.8px;border-radius:50%;background:radial-gradient(ellipse 40% 35% at 50% 55%,rgba(190,205,255,0.75) 0%,rgba(170,190,255,0) 100%)"></div>
<div class="a" style="left:859px;width:213px;text-align:center;top:655.9000000000001px;font-size:10.4px;line-height:12px;color:#2a2a2a">15% increase in delay predicted for</div>
<div class="a" style="left:859px;width:213px;text-align:center;top:670.9000000000001px;font-size:10.4px;line-height:12px;color:#2a2a2a">Route 7A due to weather Recommend</div>
<div class="a" style="left:859px;width:213px;text-align:center;top:685.9000000000001px;font-size:10.4px;line-height:12px;color:#2a2a2a">backup driver allocation</div>
<div class="a" style="left:913.6px;top:727.8px;width:2.6px;height:2.6px;border-radius:50%;background:#4aaa6e"></div>
<div class="a" style="left:921.9px;top:723px;font-size:9.4px;line-height:11px;color:#4aaa6e">Short-term risk detected</div>
<div class="a" style="left:890.4px;top:741px;width:150.5px;height:26.8px;border-radius:6px;background:#4393f4"></div>
<svg class="a" style="left:901.5px;top:748px" width="12" height="13" viewBox="0 0 12 13"><g fill="#fff"><path d="M5 2.5 C5.4 5.2 6.3 6.1 9 6.5 C6.3 6.9 5.4 7.8 5 10.5 C4.6 7.8 3.7 6.9 1 6.5 C3.7 6.1 4.6 5.2 5 2.5 Z"/><circle cx="9.2" cy="2" r="1.1"/><circle cx="9.4" cy="10.6" r="1.1"/></g></svg>
<div class="a" style="left:919.6px;top:748.5px;font-size:10.5px;line-height:12px;color:#fff">Apply Recommendation</div>
</div>
</body></html>
